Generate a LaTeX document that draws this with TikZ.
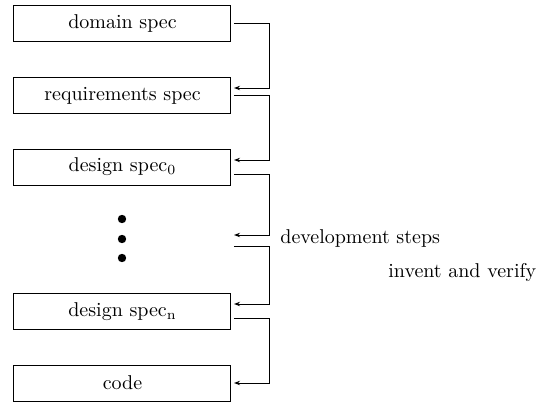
\documentclass[tikz,border=0pt]{standalone}
\usetikzlibrary{arrows.meta}
\begin{document}
\begin{tikzpicture}[x=0.5pt,y=-0.5pt,
  specbox/.style={draw,line width=0.5pt,minimum width=108.5pt,minimum height=18pt,inner sep=0pt},
  conn/.style={line width=0.5pt,-{Stealth[length=3pt,width=2.2pt]}},
  dotmark/.style={fill,circle,inner sep=0pt,minimum size=4.2pt}]
\useasboundingbox (0,0) rectangle (548,402);
\node[specbox] (b1) at (122.5,23) {domain spec};
\node[specbox] (b2) at (122.5,95.5) {requirements spec};
\node[specbox] (b3) at (122.5,167) {design spec$_0$};
\node[dotmark] (d1) at (122,219) {};
\node[dotmark] (d2) at (122,239) {};
\node[dotmark] (d3) at (122,258) {};
\node[specbox] (b4) at (122.5,311.5) {design spec$_{\mathrm{n}}$};
\node[specbox] (b5) at (122.5,383) {code};
\node[anchor=west,inner sep=0pt] (dev) at (280,238) {development steps};
\node[anchor=west,inner sep=0pt] (inv) at (388,272) {invent and verify};
% connector end points
\coordinate (o1) at (234,23);   \coordinate (i2) at (234,88);
\coordinate (o2) at (234,95);   \coordinate (i3) at (234,160);
\coordinate (o3) at (234,174);  \coordinate (i4) at (234,235);
\coordinate (o4) at (234,246);  \coordinate (i5) at (234,304);
\coordinate (o5) at (234,318);  \coordinate (i6) at (234,383);
\draw[conn] (o1) -- (270,23) -- (270,88) -- (i2);
\draw[conn] (o2) -- (270,95) -- (270,160) -- (i3);
\draw[conn] (o3) -- (270,174) -- (270,235) -- (i4);
\draw[conn] (o4) -- (270,246) -- (270,304) -- (i5);
\draw[conn] (o5) -- (270,318) -- (270,383) -- (i6);
\end{tikzpicture}
\end{document}
